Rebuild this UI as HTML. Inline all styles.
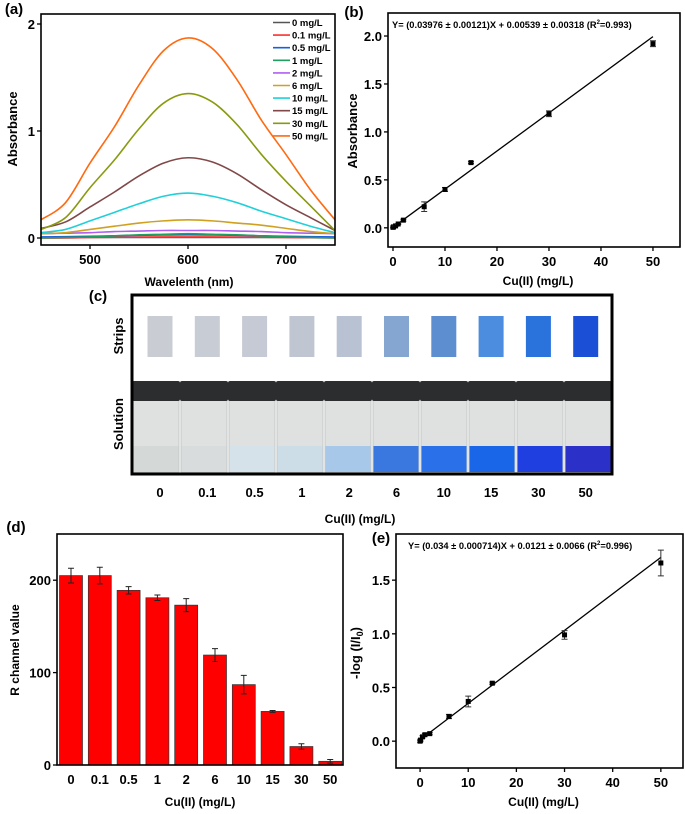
<!DOCTYPE html>
<html><head><meta charset="utf-8">
<style>
body{margin:0;background:#fff;}
svg{display:block;font-family:"Liberation Sans",Arial,sans-serif;font-weight:bold;}
</style></head>
<body>
<svg id="fig" width="685" height="814" viewBox="0 0 685 814" xmlns="http://www.w3.org/2000/svg">
<g id="pa"></g>
<g id="pb"></g>
<g id="pc"></g>
<g id="pd"></g>
<g id="pe"></g>
</svg>
<script>
// ---- Panel (a) data ----
const wavelengths = [450,475,500,525,550,575,600,625,650,675,700,725,750];
const seriesNames = ["0 mg/L","0.1 mg/L","0.5 mg/L","1 mg/L","2 mg/L","6 mg/L","10 mg/L","15 mg/L","30 mg/L","50 mg/L"];
const seriesColors = ["#555555","#ff3030","#1560e0","#20a060","#b060f0","#d0a020","#20d0d8","#804848","#8a9a10","#ff6a10"];
const absS0 = [0.005,0.005,0.005,0.005,0.005,0.005,0.005,0.005,0.005,0.005,0.005,0.005,0.005];
const absS01 = [0.0,0.0,0.005,0.007,0.009,0.01,0.01,0.01,0.009,0.007,0.005,0.003,0.0];
const absS05 = [0.01,0.012,0.016,0.02,0.025,0.028,0.03,0.028,0.025,0.02,0.016,0.012,0.01];
const absS1 = [0.0,0.005,0.01,0.02,0.03,0.035,0.04,0.035,0.03,0.02,0.01,0.005,0.0];
const absS2 = [0.04,0.045,0.05,0.06,0.065,0.07,0.07,0.07,0.065,0.06,0.05,0.045,0.04];
const absS6 = [0.04,0.05,0.08,0.11,0.14,0.16,0.17,0.16,0.14,0.12,0.09,0.06,0.04];
const absS10 = [0.05,0.08,0.16,0.24,0.32,0.39,0.42,0.39,0.33,0.25,0.18,0.11,0.05];
const absS15 = [0.09,0.15,0.29,0.43,0.58,0.70,0.75,0.71,0.60,0.45,0.31,0.19,0.07];
const absS30 = [0.08,0.19,0.47,0.73,1.02,1.26,1.35,1.27,1.06,0.78,0.53,0.30,0.07];
const absS50 = [0.17,0.33,0.70,1.04,1.43,1.75,1.87,1.77,1.48,1.10,0.78,0.45,0.17];
const absSeries = [absS0,absS01,absS05,absS1,absS2,absS6,absS10,absS15,absS30,absS50];
const aXTicks = [500,600,700];
const aYTicks = [0,1,2];

// ---- Panel (b) data ----
const concs = [0,0.1,0.5,1,2,6,10,15,30,50];
const absVals = [0.005,0.01,0.02,0.04,0.08,0.22,0.40,0.68,1.19,1.92];
const absErr = [0.005,0.005,0.005,0.005,0.01,0.05,0.02,0.01,0.03,0.03];
const bSlope = 0.03976, bIntercept = 0.00539;
const bXTicks = [0,10,20,30,40,50];
const bYTicks = [0.0,0.5,1.0,1.5,2.0];
const bYLabels = ["0.0","0.5","1.0","1.5","2.0"];

// ---- Panel (c) data ----
const concLabels = ["0","0.1","0.5","1","2","6","10","15","30","50"];
const stripColors = ["#c9ccd3","#c8ccd4","#c6cad4","#bfc6d2","#b8c2d2","#86a6d2","#5d8ed0","#4c8de0","#2a72dc","#1a4fd6"];
const liquidColors = ["#d4d8d6","#d8dcdc","#d6e2ea","#cddde8","#a8c8ea","#3a78e0","#2a70e8","#1a66e8","#1f3fe0","#2a30c8"];

// ---- Panel (d) data ----
const rVals = [205,205,189,181,173,119,87,58,20,4];
const rErr = [8,9,4,3,7,7,10,1,3,2];
const dYTicks = [0,100,200];

// ---- Panel (e) data ----
const logVals = [0.0,0.01,0.04,0.06,0.07,0.23,0.37,0.54,0.99,1.66];
const logErr = [0.01,0.01,0.01,0.01,0.01,0.02,0.05,0.01,0.04,0.12];
const eSlope = 0.034, eIntercept = 0.0121;
const eXTicks = [0,10,20,30,40,50];
const eYTicks = [0.0,0.5,1.0,1.5];
const eYLabels = ["0.0","0.5","1.0","1.5"];

const NS="http://www.w3.org/2000/svg";
function mk(parent,tag,attrs,text){
  const e=document.createElementNS(NS,tag);
  for(const k in attrs) e.setAttribute(k,attrs[k]);
  if(text!==undefined) e.textContent=text;
  parent.appendChild(e); return e;
}
function lin(d0,d1,r0,r1){return v=>r0+(v-d0)/(d1-d0)*(r1-r0);}
function smooth(pts){
  let d="M"+pts[0][0]+","+pts[0][1];
  for(let i=0;i<pts.length-1;i++){
    const p0=pts[i-1]||pts[i],p1=pts[i],p2=pts[i+1],p3=pts[i+2]||p2;
    const c1=[p1[0]+(p2[0]-p0[0])/6,p1[1]+(p2[1]-p0[1])/6];
    const c2=[p2[0]-(p3[0]-p1[0])/6,p2[1]-(p3[1]-p1[1])/6];
    d+=" C"+c1[0]+","+c1[1]+" "+c2[0]+","+c2[1]+" "+p2[0]+","+p2[1];
  }
  return d;
}
function frame(g,L,T,R,B){
  const r=mk(g,"rect",{x:L,y:T,width:R-L,height:B-T,fill:"none",stroke:"#000","stroke-width":1.6});
  
  
}
function xTick(g,x,B,label,fs){
  const l=mk(g,"line",{x1:x,x2:x,y1:B,y2:B+4,stroke:"#000","stroke-width":1.3});
  
  
  const t=mk(g,"text",{x:x,y:B+19,"text-anchor":"middle","font-size":fs},label);
  
  
}
function yTick(g,y,L,label,fs){
  const l=mk(g,"line",{x1:L-4,x2:L,y1:y,y2:y,stroke:"#000","stroke-width":1.3});
  
  
  const t=mk(g,"text",{x:L-6,y:y+5,"text-anchor":"end","font-size":fs},label);
  
  
}
function label(g,x,y,txt,fs,name,rot){
  const a={x:x,y:y,"text-anchor":"middle","font-size":fs};
  if(rot) a.transform="rotate(-90 "+x+" "+y+")";
  const t=mk(g,"text",a,txt);
  
  
  return t;
}

// ===== Panel a =====
(function(){
  const g=document.getElementById("pa");
  const L=41,R=335,T=14,B=245;
  const x=lin(450,750,L,R), y=lin(0,1,238,131);
  absSeries.forEach((s,i)=>{
    const pts=s.map((v,j)=>[x(wavelengths[j]),y(v)]);
    const p=mk(g,"path",{d:smooth(pts),fill:"none",stroke:seriesColors[i],"stroke-width":1.6});
    
    
  });
  frame(g,L,T,R,B);
  aXTicks.forEach(v=>xTick(g,x(v),B,String(v),13));
  aYTicks.forEach(v=>yTick(g,y(v),L,String(v),13));
  seriesNames.forEach((n,i)=>{
    const yy=22.5+i*12.6;
    const l=mk(g,"line",{x1:273,x2:290,y1:yy,y2:yy,stroke:seriesColors[i],"stroke-width":1.6});
    
    
    const t=mk(g,"text",{x:292,y:yy+3.5,"font-size":9.5},n);
    
    
  });
  label(g,14,14,"(a)",15,"panel-a-label").setAttribute("text-anchor","middle");
  label(g,17,129,"Absorbance",13,"y-axis-title",true);
  label(g,189,286,"Wavelenth (nm)",12,"x-axis-title");
})();

// ===== scatter+fit helper =====
function scatterPanel(id,L,T,R,B,xd,yd,vals,errs,slope,icpt,xt,yt,yl,eqText,eqX,eqY,tag,tagX,tagY,ylab,ylabX,ylabY){
  const g=document.getElementById(id);
  const x=lin(xd[0],xd[1],L,R), y=lin(yd[0],yd[1],B,T);
  frame(g,L,T,R,B);
  xt.forEach(v=>xTick(g,x(v),B,String(v),13));
  yt.forEach((v,i)=>yTick(g,y(v),L,yl[i],13));
  const fl=mk(g,"line",{x1:x(0),y1:y(icpt),x2:x(50),y2:y(icpt+slope*50),stroke:"#000","stroke-width":1.3});
  
  
  concs.forEach((c,i)=>{
    const cx=x(c),cy=y(vals[i]),e1=y(vals[i]+errs[i]),e2=y(vals[i]-errs[i]);
    const eb=mk(g,"path",{d:"M"+cx+","+e1+"V"+e2+"M"+(cx-3)+","+e1+"H"+(cx+3)+"M"+(cx-3)+","+e2+"H"+(cx+3),stroke:"#333","stroke-width":1,fill:"none"});
    
    
    const p=mk(g,"rect",{x:cx-2.5,y:cy-2.5,width:5,height:5,fill:"#000"});
    
    
  });
  const t=mk(g,"text",{x:eqX,y:eqY,"font-size":9.3});
  
  
  t.innerHTML=eqText;
  label(g,tagX,tagY,tag,15,"panel-label");
  label(g,ylabX,ylabY,ylab,13,"y-axis-title",true);
  label(g,(L+R)/2+4,id==="pb"?285:806,"Cu(II) (mg/L)",12,"x-axis-title");
  return g;
}
scatterPanel("pb",388,13,680,247,[-0.96,55.2],[-0.2,2.24],absVals,absErr,bSlope,bIntercept,bXTicks,bYTicks,bYLabels,
 'Y= (0.03976 ± 0.00121)X + 0.00539 ± 0.00318 (R<tspan font-size="6" dy="-4">2</tspan><tspan dy="4">=0.993)</tspan>',392,28,"(b)",354,17,"Absorbance",357,131);
const ge=scatterPanel("pe",396,534,683,768,[-5,54.6],[-0.25,1.93],logVals,logErr,eSlope,eIntercept,eXTicks,eYTicks,eYLabels,
 'Y= (0.034 ± 0.000714)X + 0.0121 ± 0.0066 (R<tspan font-size="6" dy="-4">2</tspan><tspan dy="4">=0.996)</tspan>',408,549,"(e)",381,543,"",355,653);
(function(){
  const t=mk(ge,"text",{x:360,y:653,"text-anchor":"middle","font-size":13,transform:"rotate(-90 360 653)"});
  
  
  t.innerHTML='-log (I/I<tspan font-size="9" dy="3">0</tspan><tspan dy="-3">)</tspan>';
})();

// ===== Panel c =====
(function(){
  const g=document.getElementById("pc");
  const L=132,R=612,T=295,B=474;
  const sx=i=>160+i*47.3;
  const vw=(R-L)/10;
  concLabels.forEach((c,i)=>{
    const s=mk(g,"rect",{x:sx(i)-12.5,y:316,width:25,height:41,fill:stripColors[i]});
    
    
    const vx=L+i*vw;
    const body=mk(g,"rect",{x:vx+1,y:400,width:vw-2,height:72,fill:"#dfe1e1",stroke:"#c4c8c8","stroke-width":1});
    
    
    const liq=mk(g,"rect",{x:vx+1.5,y:446,width:vw-3,height:26,fill:liquidColors[i]});
    
    
    const cap=mk(g,"rect",{x:vx,y:381,width:vw,height:20,fill:"#2b2d2f",rx:2});
    
    
    const t=mk(g,"text",{x:sx(i),y:497,"text-anchor":"middle","font-size":13},c);
    
    
  });
  const f=mk(g,"rect",{x:L,y:T,width:R-L,height:B-T,fill:"none",stroke:"#000","stroke-width":3});
  
  
  label(g,98,301,"(c)",15,"panel-c-label");
  label(g,123,336,"Strips",13,"strips-label",true);
  label(g,123,424,"Solution",13,"solution-label",true);
  label(g,360,523,"Cu(II) (mg/L)",12,"x-axis-title");
})();

// ===== Panel d =====
(function(){
  const g=document.getElementById("pd");
  const L=57,R=343,T=534,B=765;
  const y=lin(0,250,B,T);
  const bx=i=>71+i*28.8;
  rVals.forEach((v,i)=>{
    const r=mk(g,"rect",{x:bx(i)-11.5,y:y(v),width:23,height:B-y(v),fill:"#ff0000",stroke:"#333","stroke-width":0.7});
    
    
    const e1=y(v+rErr[i]),e2=y(v-rErr[i]),cx=bx(i);
    const eb=mk(g,"path",{d:"M"+cx+","+e1+"V"+e2+"M"+(cx-3)+","+e1+"H"+(cx+3)+"M"+(cx-3)+","+e2+"H"+(cx+3),stroke:"#222","stroke-width":1,fill:"none"});
    
    
    const t=mk(g,"text",{x:cx,y:B+19,"text-anchor":"middle","font-size":13},concLabels[i]);
    
    
  });
  frame(g,L,T,R,B);
  dYTicks.forEach(v=>yTick(g,y(v),L,String(v),13));
  label(g,16,532,"(d)",15,"panel-d-label");
  label(g,19,650,"R channel  value",12,"y-axis-title",true);
  label(g,200,806,"Cu(II) (mg/L)",12,"x-axis-title");
})();
</script>
</body></html>
